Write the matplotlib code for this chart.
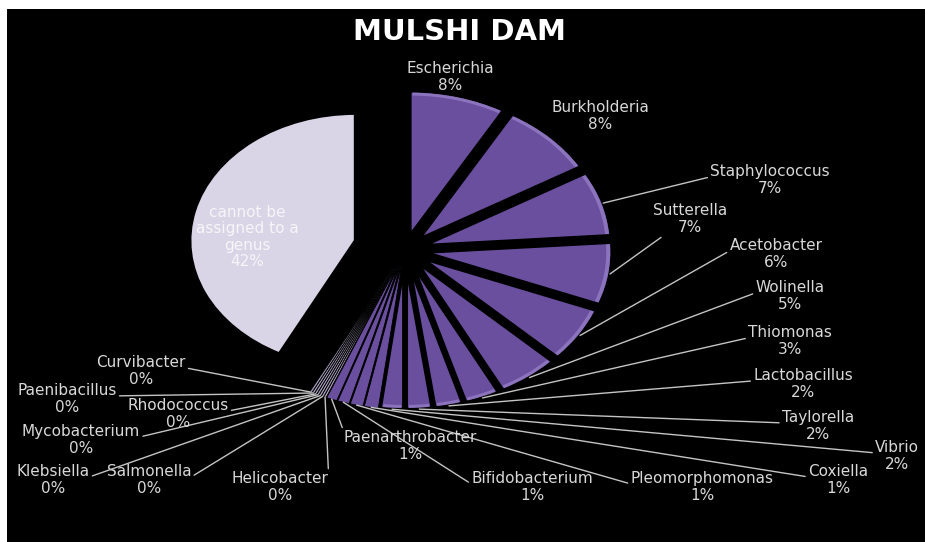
import math
import matplotlib.pyplot as plt
from matplotlib.patches import Rectangle, Wedge

W, H = 925, 542
SX = 1.3            # horizontal stretch of the pie
CX, CY = 405, 250   # pie centre, pixels from top left
R = 145

genera = ["Escherichia", "Burkholderia", "Staphylococcus", "Sutterella",
          "Acetobacter", "Wolinella", "Thiomonas", "Lactobacillus",
          "Taylorella", "Vibrio", "Coxiella", "Pleomorphomonas",
          "Bifidobacterium", "Paenarthrobacter", "Helicobacter",
          "Salmonella", "Klebsiella", "Mycobacterium", "Rhodococcus",
          "Paenibacillus", "Curvibacter", "cannot be\nassigned to a\ngenus"]
share = [8.3, 8.3, 7.3, 7.0, 6.2, 5.3, 3.0, 2.4, 2.2, 2.0, 1.2, 1.1, 1.0, 0.9,
         0.2, 0.2, 0.2, 0.2, 0.2, 0.2, 0.2, 42.4]

# label centre (px from top left) and where the leader line leaves the text
label_layout = {
    "Escherichia": ((450, 77), None),
    "Burkholderia": ((600, 116), None),
    "Staphylococcus": ((770, 180), (0, 0.6)),
    "Sutterella": ((690, 219), (0.28, 0.2)),
    "Acetobacter": ((776, 254), (0, 0.6)),
    "Wolinella": ((790, 296), (0, 0.6)),
    "Thiomonas": ((790, 341), (0, 0.6)),
    "Lactobacillus": ((803, 384), (0, 0.6)),
    "Taylorella": ((818, 426), (0, 0.6)),
    "Vibrio": ((897, 456), (0, 0.6)),
    "Coxiella": ((838, 480), (0, 0.6)),
    "Pleomorphomonas": ((702, 487), (0, 0.6)),
    "Bifidobacterium": ((532, 487), (0, 0.6)),
    "Paenarthrobacter": ((410, 446), (0, 1)),
    "Helicobacter": ((280, 487), (1, 1)),
    "Salmonella": ((149, 480), (1, 0.6)),
    "Klebsiella": ((53, 480), (1, 0.6)),
    "Mycobacterium": ((81, 440), (1, 0.6)),
    "Rhodococcus": ((178, 414), (1, 0.6)),
    "Paenibacillus": ((67, 399), (1, 0.6)),
    "Curvibacter": ((141, 371), (1, 0.6)),
}

plt.rcParams['font.family'] = ['DejaVu Sans']


def px(x, y):
    return x / SX, H - y


fig = plt.figure(figsize=(W / 100, H / 100), dpi=100, facecolor='white')
fig.add_artist(Rectangle((7 / W, 0), 1 - 7 / W, 1 - 9 / H, transform=fig.transFigure,
                         facecolor='black', edgecolor='none', zorder=-10))
ax = fig.add_axes([0, 0, 1, 1])
ax.set_facecolor('none')

colors = []
for v in share:
    if v >= 40:
        colors.append('#d9d4e6')
    elif v < 0.5:
        colors.append('#aaa2c0')
    else:
        colors.append('#6a4f9f')
explode = [0.1 * R] * (len(share) - 1) + [0.27 * R]

wedges, _ = ax.pie(share, colors=colors, explode=explode, startangle=90,
                   counterclock=False, radius=R, center=px(CX, CY),
                   wedgeprops=dict(edgecolor='black', linewidth=2.5))
for w, v in zip(wedges, share):
    if v < 1.5:
        w.set_linewidth(0.6)
wedges[-1].set_radius(0.88 * R)

# light rim along the outer arc of the purple slices
for w, v in zip(wedges[:-1], share[:-1]):
    if v >= 1.5:
        ax.add_patch(Wedge(w.center, w.r - 1.5, w.theta1 + 0.8, w.theta2 - 0.8,
                           width=3, facecolor='#957dc6', edgecolor='none', alpha=0.8))

ax.set_xlim(0, W / SX)
ax.set_ylim(0, H)
ax.set_aspect('auto')
ax.axis('off')

ax.text(*px(460, 32), "MULSHI DAM", ha='center', va='center', fontsize=21,
        fontweight='bold', color='white')

for name, v, w in zip(genera, share, wedges):
    text = f"{name}\n{v:.0f}%"
    if name not in label_layout:
        ax.text(*px(247, 237), text, ha='center', va='center', fontsize=11,
                color='#f6f6f8', linespacing=1.1)
        continue
    (lx, ly), rel = label_layout[name]
    th = math.radians((w.theta1 + w.theta2) / 2)
    cx, cy = w.center
    tip = (cx + w.r * math.cos(th), cy + w.r * math.sin(th))
    if rel is None:
        ax.text(*px(lx, ly), text, ha='center', va='center', fontsize=11,
                color='#d8d8d8', linespacing=1.1)
    else:
        ax.annotate(text, xy=tip, xytext=px(lx, ly), ha='center', va='center',
                    fontsize=11, color='#d8d8d8', linespacing=1.1,
                    arrowprops=dict(arrowstyle='-', color='#c4c4c4', lw=1,
                                    shrinkA=0, shrinkB=0, relpos=rel))

fig.savefig('out.png', dpi=100, facecolor='white')
